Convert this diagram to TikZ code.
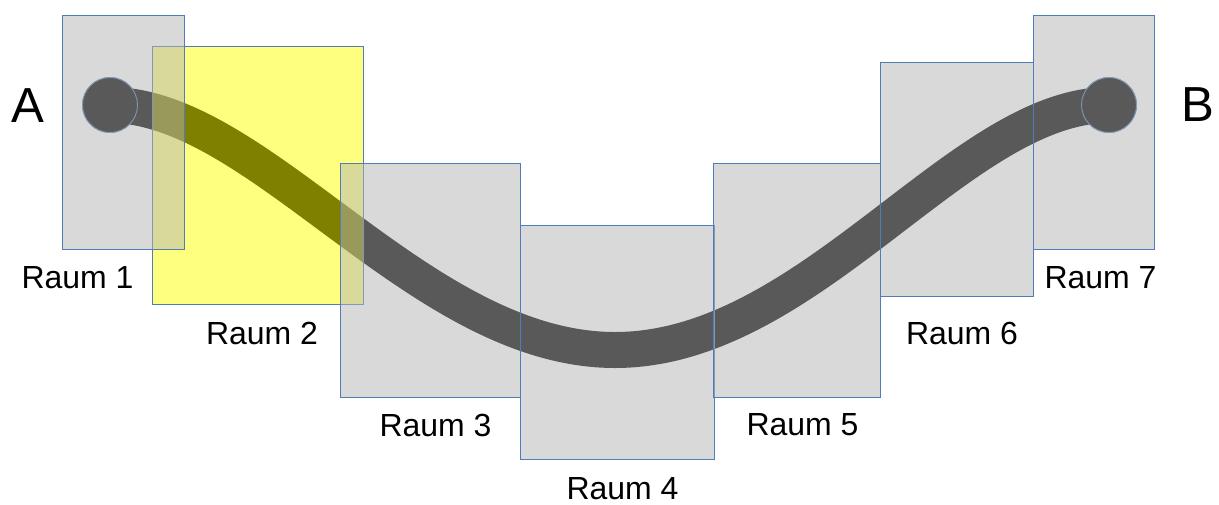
\documentclass[tikz,border=0pt]{standalone}
\usepackage{fontspec}
\setmainfont{Liberation Sans}
\usepackage{xcolor}
\usepackage{tikz}
\definecolor{roomline}{RGB}{79,125,186}
\definecolor{roomgray}{RGB}{179,179,179}
\definecolor{roomhot}{RGB}{255,255,0}

\begin{document}
\begin{tikzpicture}[
    x=0.02cm,y=-0.02cm,
    room/.style={draw=roomline,line width=0.5pt,fill=roomgray,fill opacity=0.5,draw opacity=1},
    hotroom/.style={room,fill=roomhot},
    endpt/.style={circle,fill=black,draw=roomline,line width=0.5pt,minimum size=55*0.02cm,inner sep=0pt},
    cable/.style={line width=36*0.02cm,black},
    lbl/.style={font=\fontsize{18.2}{20}\selectfont,inner sep=0pt},
    big/.style={font=\fontsize{28}{30}\selectfont,inner sep=0pt}
  ]
  \useasboundingbox (0,0) rectangle (1219,504);

  % the line from A to B, lying under the rooms
  \node[endpt] (endA) at (110,105) {};
  \node[endpt] (endB) at (1109,105) {};
  \coordinate (dip) at (615,350);
  \draw[cable] (endA.center) .. controls (260,105) and (420,350) .. (dip)
                             .. controls (810,350) and (960,105) .. (endB.center);
  \node[endpt] at (endA) {};
  \node[endpt] at (endB) {};

  % rooms
  \draw[hotroom] (152,46) rectangle (363,304);
  \draw[room] (62,15) rectangle (184,249);
  \draw[room] (340,163) rectangle (520,397);
  \draw[room] (520,225) rectangle (714,459);
  \draw[room] (713,163) rectangle (880,397);
  \draw[room] (880,62) rectangle (1033,296);
  \draw[room] (1033,15) rectangle (1154,249);

  \node[big] (lA) at (28,106) {A};
  \node[big] (lB) at (1198,105) {B};

  \node[lbl] (r1) at (77.5,278) {Raum 1};
  \node[lbl] (r2) at (262,333) {Raum 2};
  \node[lbl] (r3) at (435.5,425) {Raum 3};
  \node[lbl] (r4) at (622.5,489) {Raum 4};
  \node[lbl] (r5) at (802.5,425) {Raum 5};
  \node[lbl] (r6) at (962,333) {Raum 6};
  \node[lbl] (r7) at (1100.5,278) {Raum 7};
\end{tikzpicture}
\end{document}
